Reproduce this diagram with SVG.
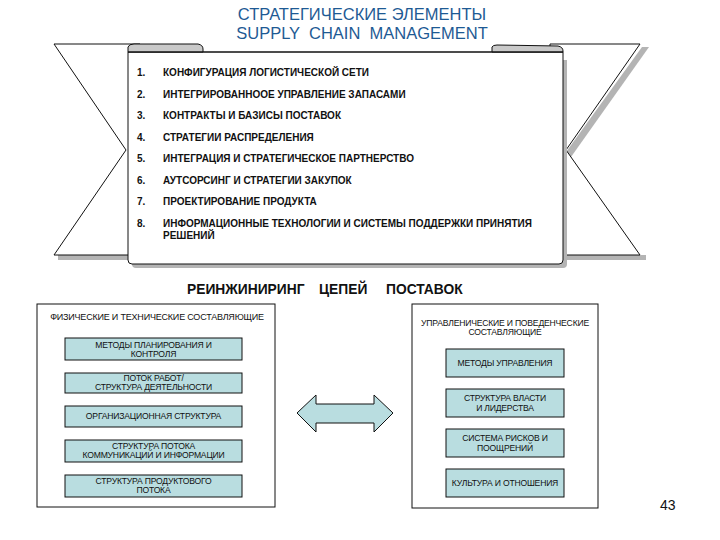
<svg xmlns="http://www.w3.org/2000/svg" width="720" height="540" viewBox="0 0 720 540">
<style>
.ttl{font-family:"Liberation Sans",Arial,sans-serif;font-size:16.5px;fill:#1e5a94;text-anchor:middle}
.itm{font-family:"Liberation Sans",Arial,sans-serif;font-size:10px;font-weight:bold;fill:#111}
.hdr{font-family:"Liberation Sans",Arial,sans-serif;font-size:13.8px;font-weight:bold;fill:#111}
.sm{font-family:"Liberation Sans",Arial,sans-serif;font-size:8.6px;fill:#111;text-anchor:middle;letter-spacing:-0.2px}
.box{fill:#b9dde0;stroke:#111;stroke-width:1}
.frame{fill:#fff;stroke:#111;stroke-width:1}
.ln{fill:#fff;stroke:#111;stroke-width:1}
.shd{fill:#b4b4b4}
</style>

<g id="title">
<text class="ttl" x="362" y="20">СТРАТЕГИЧЕСКИЕ ЭЛЕМЕНТЫ</text>
<text class="ttl" x="362" y="39" xml:space="preserve">SUPPLY  CHAIN  MANAGEMENT</text>
</g>

<g id="banner">
<rect class="shd" x="58" y="255" width="75" height="5"/>
<polygon class="ln" points="54,44 140,44 140,255 54,255 126,150"/>
<polygon class="shd" points="642,47 649,47 571,157 566,152"/>
<rect class="shd" x="560" y="255" width="86" height="5"/>
<polygon class="ln" points="640,44 550,44 550,255 640,255 566,150"/>
<path class="shd" d="M132,60 L567,60 L567,264 Q567,268 563,268 L136,268 Q132,268 132,264 Z"/>
<path class="frame" d="M128,52 L563,52 L563,260 Q563,264 559,264 L132,264 Q128,264 128,260 Z"/>
<path d="M128,52 L128,47 Q129,44 134,44 L198,44 Q203,45 203,49 L203,52 Z" fill="#c9c9c9" stroke="#111" stroke-width="1"/>
<path d="M492,52 L492,47 Q493,45 497,45 L558,46 Q563,47 563,51 L563,52 Z" fill="#c9c9c9" stroke="#111" stroke-width="1"/>
<line x1="128" y1="52" x2="563" y2="52" stroke="#111" stroke-width="1"/>
</g>

<g id="list">
<text class="itm" x="137" y="76">1.</text><text class="itm" x="163" y="76">КОНФИГУРАЦИЯ ЛОГИСТИЧЕСКОЙ СЕТИ</text>
<text class="itm" x="137" y="97.5">2.</text><text class="itm" x="163" y="97.5">ИНТЕГРИРОВАННООЕ УПРАВЛЕНИЕ ЗАПАСАМИ</text>
<text class="itm" x="137" y="119">3.</text><text class="itm" x="163" y="119">КОНТРАКТЫ И БАЗИСЫ ПОСТАВОК</text>
<text class="itm" x="137" y="140.5">4.</text><text class="itm" x="163" y="140.5">СТРАТЕГИИ РАСПРЕДЕЛЕНИЯ</text>
<text class="itm" x="137" y="162">5.</text><text class="itm" x="163" y="162">ИНТЕГРАЦИЯ И СТРАТЕГИЧЕСКОЕ ПАРТНЕРСТВО</text>
<text class="itm" x="137" y="183.5">6.</text><text class="itm" x="163" y="183.5">АУТСОРСИНГ И СТРАТЕГИИ ЗАКУПОК</text>
<text class="itm" x="137" y="205">7.</text><text class="itm" x="163" y="205">ПРОЕКТИРОВАНИЕ ПРОДУКТА</text>
<text class="itm" x="137" y="227">8.</text><text class="itm" x="163" y="227">ИНФОРМАЦИОННЫЕ ТЕХНОЛОГИИ И СИСТЕМЫ ПОДДЕРЖКИ ПРИНЯТИЯ</text>
<text class="itm" x="163" y="238.5">РЕШЕНИЙ</text>
</g>

<g id="heading">
<text class="hdr" x="187" y="294">РЕИНЖИНИРИНГ</text>
<text class="hdr" x="319" y="294">ЦЕПЕЙ</text>
<text class="hdr" x="386" y="294">ПОСТАВОК</text>
</g>

<g id="left-group">
<rect class="frame" x="37" y="304" width="238" height="203"/>
<text class="sm" x="157" y="320" style="font-size:9px">ФИЗИЧЕСКИЕ И ТЕХНИЧЕСКИЕ СОСТАВЛЯЮЩИЕ</text>
</g>
<g id="l1"><rect class="box" x="65" y="338" width="177" height="22"/>
<text class="sm" x="153.5" y="347.5">МЕТОДЫ ПЛАНИРОВАНИЯ И</text><text class="sm" x="153.5" y="357">КОНТРОЛЯ</text></g>
<g id="l2"><rect class="box" x="65" y="373" width="177" height="20"/>
<text class="sm" x="153.5" y="381">ПОТОК РАБОТ/</text><text class="sm" x="153.5" y="390">СТРУКТУРА ДЕЯТЕЛЬНОСТИ</text></g>
<g id="l3"><rect class="box" x="65" y="406" width="177" height="21"/>
<text class="sm" x="153.5" y="419">ОРГАНИЗАЦИОННАЯ СТРУКТУРА</text></g>
<g id="l4"><rect class="box" x="65" y="440" width="177" height="22"/>
<text class="sm" x="153.5" y="449">СТРУКТУРА ПОТОКА</text><text class="sm" x="153.5" y="458">КОММУНИКАЦИЙ И ИНФОРМАЦИИ</text></g>
<g id="l5"><rect class="box" x="65" y="475" width="177" height="22"/>
<text class="sm" x="153.5" y="484">СТРУКТУРА ПРОДУКТОВОГО</text><text class="sm" x="153.5" y="493">ПОТОКА</text></g>

<g id="right-group">
<rect class="frame" x="412" y="304" width="186" height="204"/>
<text class="sm" x="505" y="326">УПРАВЛЕНИЧЕСКИЕ И ПОВЕДЕНЧЕСКИЕ</text>
<text class="sm" x="505" y="335">СОСТАВЛЯЮЩИЕ</text>
</g>
<g id="r1"><rect class="box" x="446" y="349" width="118" height="28"/>
<text class="sm" x="505" y="366">МЕТОДЫ УПРАВЛЕНИЯ</text></g>
<g id="r2"><rect class="box" x="446" y="389" width="118" height="28"/>
<text class="sm" x="505" y="401">СТРУКТУРА ВЛАСТИ</text><text class="sm" x="505" y="411">И ЛИДЕРСТВА</text></g>
<g id="r3"><rect class="box" x="446" y="429" width="118" height="28"/>
<text class="sm" x="505" y="441">СИСТЕМА РИСКОВ И</text><text class="sm" x="505" y="451">ПООЩРЕНИЙ</text></g>
<g id="r4"><rect class="box" x="446" y="469" width="118" height="28"/>
<text class="sm" x="505" y="486">КУЛЬТУРА И ОТНОШЕНИЯ</text></g>

<g id="connectors">
<polygon class="box" points="297,413 316,395 316,404 374,404 374,395 393,413 374,432 374,423 316,423 316,432"/>
</g>

<g id="page">
<text x="660" y="510" font-family="Liberation Sans, Arial, sans-serif" font-size="14" fill="#111">43</text>
</g>
</svg>
